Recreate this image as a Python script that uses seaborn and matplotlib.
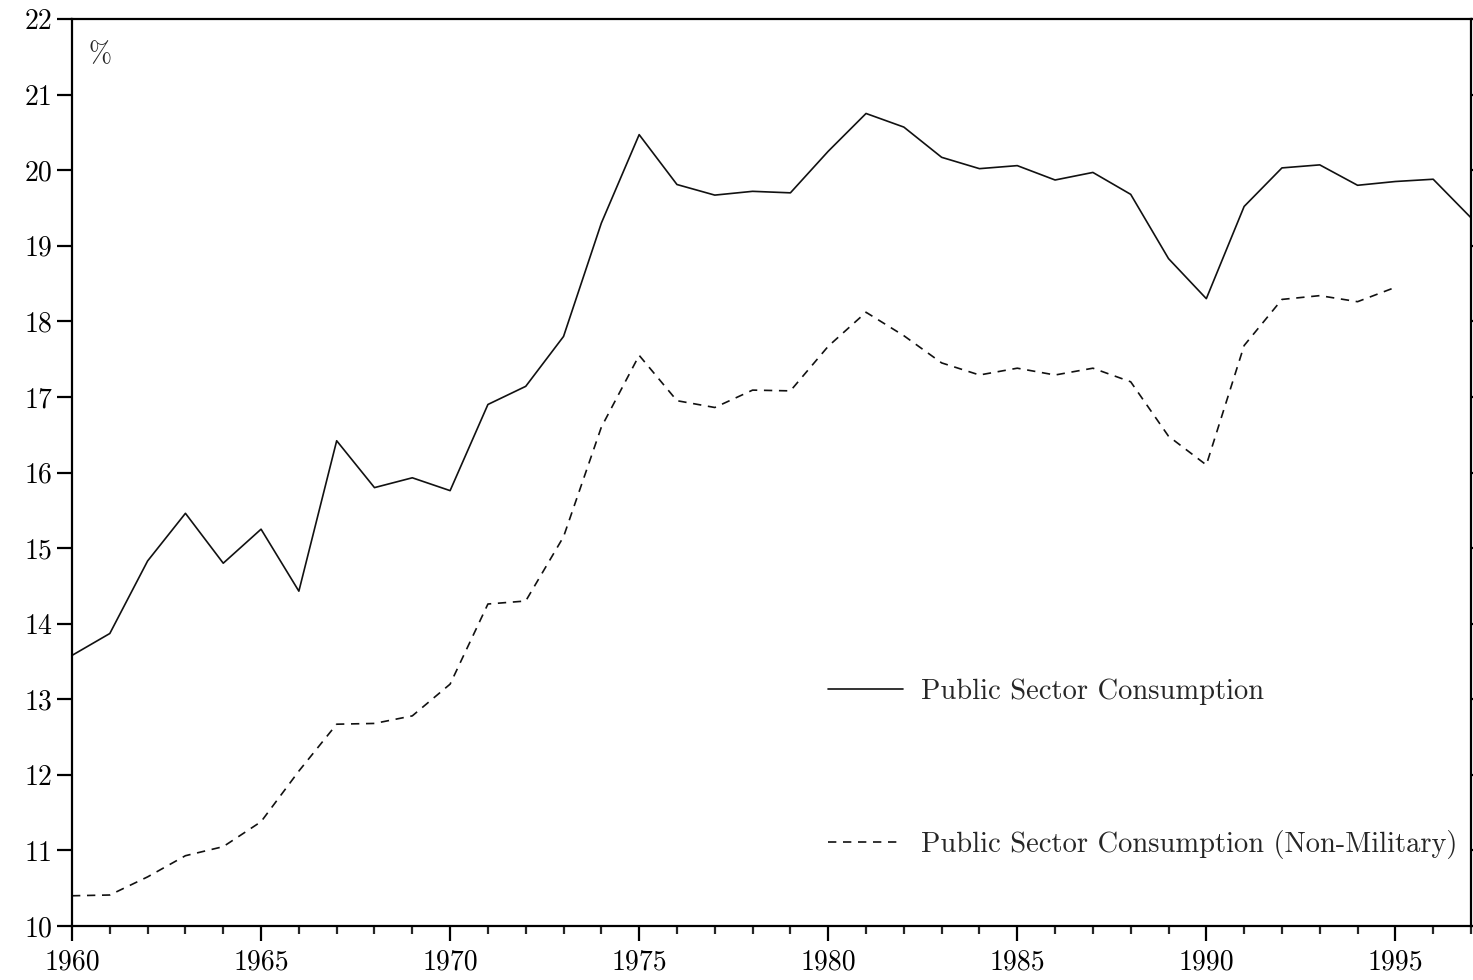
import pandas as pd
import numpy as np
import matplotlib
matplotlib.use("Agg")
import matplotlib.pyplot as plt
import seaborn as sns

# Data (share of GDP, %)
years = list(range(1960, 1998))
public_consumption = [
    13.58, 13.87, 14.83, 15.46, 14.80, 15.25, 14.43, 16.42, 15.80, 15.93,
    15.76, 16.90, 17.14, 17.80, 19.30, 20.47, 19.81, 19.67, 19.72, 19.70,
    20.25, 20.75, 20.57, 20.17, 20.02, 20.06, 19.87, 19.97, 19.68, 18.83,
    18.30, 19.52, 20.03, 20.07, 19.80, 19.85, 19.88, 19.37,
]
years_nonmil = list(range(1960, 1996))
public_consumption_nonmil = [
    10.40, 10.41, 10.65, 10.93, 11.05, 11.38, 12.05, 12.67, 12.68, 12.78,
    13.20, 14.26, 14.30, 15.15, 16.60, 17.55, 16.95, 16.86, 17.09, 17.08,
    17.67, 18.12, 17.81, 17.45, 17.29, 17.38, 17.29, 17.38, 17.20, 16.48,
    16.10, 17.68, 18.29, 18.34, 18.26, 18.45,
]
label_total = "Public Sector Consumption"
label_nonmil = "Public Sector Consumption (Non-Military)"
xtick_years = [1960, 1965, 1970, 1975, 1980, 1985, 1990, 1995]
ytick_vals = list(range(10, 23))

df_total = pd.DataFrame({"year": years, "value": public_consumption})
df_nonmil = pd.DataFrame({"year": years_nonmil, "value": public_consumption_nonmil})

sns.set_style("ticks")
plt.rcParams["font.family"] = ["cmr10", "DejaVu Serif"]
plt.rcParams["mathtext.fontset"] = "cm"
plt.rcParams["axes.formatter.use_mathtext"] = True
plt.rcParams["axes.unicode_minus"] = False

fig = plt.figure(figsize=(14.73, 9.8), dpi=100)
ax = fig.add_axes([72 / 1473, 1 - 926 / 980, (1471 - 72) / 1473, (926 - 19) / 980])

sns.lineplot(data=df_total, x="year", y="value", ax=ax, color="#111111",
             linewidth=1.2, label=label_total)
sns.lineplot(data=df_nonmil, x="year", y="value", ax=ax, color="#111111",
             linewidth=1.2, label=label_nonmil)
ax.lines[1].set_dashes((5, 4))

ax.set_xlim(1960, 1997)
ax.set_ylim(10, 22)
ax.set_xticks(xtick_years)
ax.set_xticklabels([str(y) for y in xtick_years])
ax.set_xticks(years, minor=True)
ax.set_yticks(ytick_vals)
ax.set_yticklabels([str(v) for v in ytick_vals])
ax.set_xlabel("")
ax.set_ylabel("")

for s in ax.spines.values():
    s.set_linewidth(1.6)
    s.set_color("black")
    s.set_visible(True)

ax.tick_params(axis="x", which="major", direction="out", length=11, width=1.6,
               labelsize=20, pad=6, colors="black")
ax.tick_params(axis="x", which="minor", direction="out", length=6, width=1.6)
ax.tick_params(axis="y", which="major", direction="out", length=11, width=1.6,
               labelsize=20, pad=3, right=True, colors="black")
ax.tick_params(axis="y", which="minor", left=False, right=False)

ax.text(0.012, 0.96, "%", transform=ax.transAxes, fontsize=20,
        ha="left", va="center")

leg = ax.legend(loc="upper left", bbox_to_anchor=(0.5404, 0.273), frameon=False,
                fontsize=20.5, handlelength=2.65, handletextpad=0.6,
                labelspacing=4.4, borderaxespad=0, borderpad=0)

fig.savefig("out.png", dpi=100)
